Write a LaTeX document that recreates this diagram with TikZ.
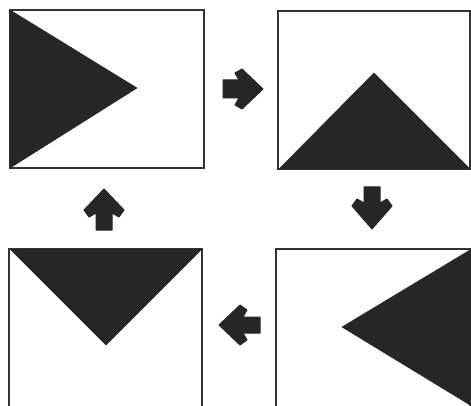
\documentclass[tikz,border=0pt]{standalone}
\begin{document}
\begin{tikzpicture}[x=1pt,y=-1pt,
  frame/.style={draw=black!80,line width=1.3pt},
  tri/.style={fill=black!85,draw=black!85,line width=0.5pt,line join=round},
  blockarrow/.style={fill=black!85,draw=black!85,line width=1pt,line join=round}]
\useasboundingbox (0,0) rectangle (471,406);
% top left
\draw[frame] (10,10) rectangle (204,168);
\fill[tri] (10,10) -- (137,88) -- (10,168) -- cycle;
% top right
\draw[frame] (278,11) rectangle (470,169);
\fill[tri] (279,169) -- (374,73) -- (470,169) -- cycle;
% bottom left
\draw[frame] (9,410) -- (9,249) -- (202,249) -- (202,410);
\fill[tri] (10,249) -- (202,249) -- (106,345) -- cycle;
% bottom right
\draw[frame] (276,410) -- (276,249) -- (470,249) -- (470,410);
\fill[tri] (470,250) -- (342,327) -- (470,405) -- cycle;
% arrows
\filldraw[blockarrow] (223,80) -- (239,80) -- (235,73) -- (242,69) -- (263,89) -- (242,109) -- (235,105) -- (239,98) -- (223,98) -- cycle;
\filldraw[blockarrow] (364,187) -- (364,203) -- (357,199) -- (352,206) -- (372,229) -- (392,206) -- (387,199) -- (380,203) -- (380,187) -- cycle;
\filldraw[blockarrow] (96,230) -- (96,213) -- (89,217) -- (84,210) -- (104,189) -- (124,210) -- (119,217) -- (112,213) -- (112,230) -- cycle;
\filldraw[blockarrow] (260,317) -- (243,317) -- (247,310) -- (240,305) -- (219,325) -- (240,345) -- (247,340) -- (243,333) -- (260,333) -- cycle;
\end{tikzpicture}
\end{document}
